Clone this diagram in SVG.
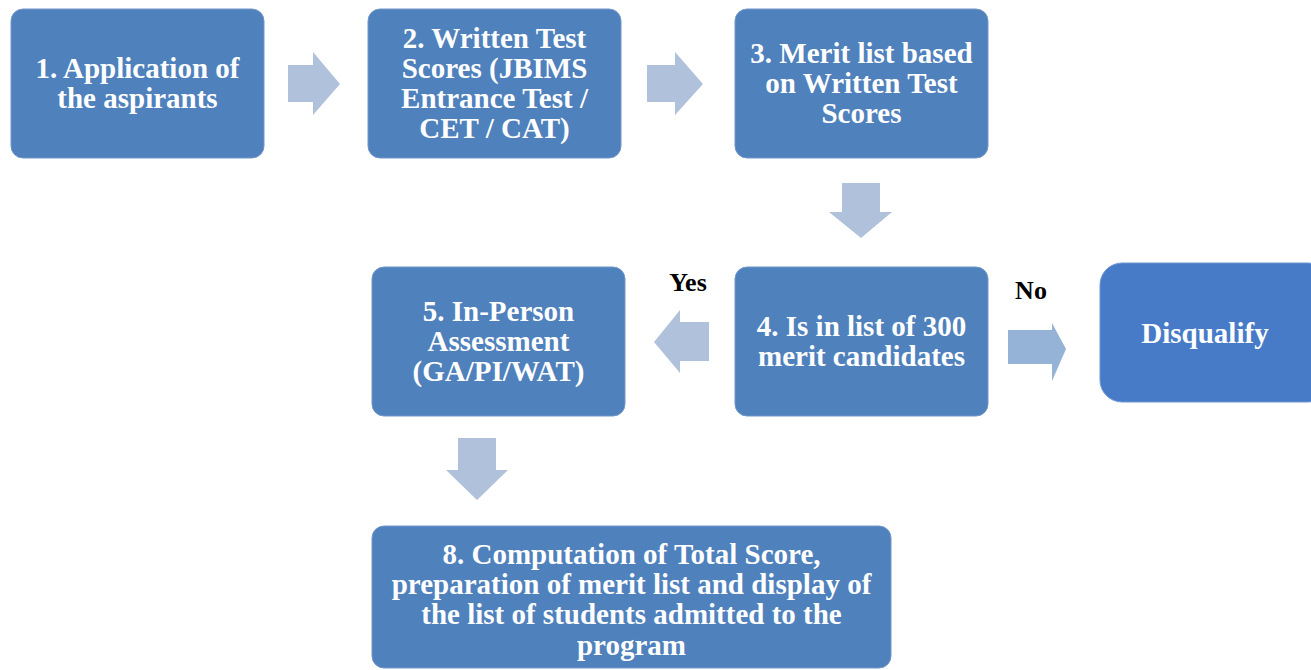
<svg xmlns="http://www.w3.org/2000/svg" width="1311" height="670" viewBox="0 0 1311 670">
<style>
.box{fill:#4F81BD;stroke:#7397C9;stroke-width:1}
.dq{fill:#477BC7;stroke:#6E96D2;stroke-width:1}
.arr{fill:#B0C1DC}
.arrno{fill:#95B3D7}
.t{font-family:"Liberation Serif","Times New Roman",serif;font-weight:bold;font-size:29px;fill:#FFFFFF;text-anchor:middle}
.lbl{font-family:"Liberation Serif","Times New Roman",serif;font-weight:bold;font-size:26px;fill:#000000;text-anchor:middle}
</style>
<rect width="1311" height="670" fill="#FFFFFF"/>
<g id="connectors">
<polygon class="arr" points="288,65 313,65 313,52 340,84 313,115 313,102 288,102"/>
<polygon class="arr" points="647,65 675,65 675,52 703,84 675,115 675,102 647,102"/>
<polygon class="arr" points="842,183 880,183 880,212 892,212 861,238 829,212 842,212"/>
<polygon class="arr" points="709,322 680,322 680,310 654,342 680,373 680,361 709,361"/>
<polygon class="arrno" points="1008,330 1052,330 1052,323 1066,349 1052,381 1052,364 1008,364"/>
<polygon class="arr" points="458,438 496,438 496,470 508,470 477,500 446,470 458,470"/>
<text class="lbl" x="688" y="291">Yes</text>
<text class="lbl" x="1031" y="299">No</text>
</g>
<g id="n1">
<rect class="box" x="11" y="9" width="253" height="149" rx="12"/>
<text class="t" x="137.5" y="78">1. Application of</text>
<text class="t" x="137.5" y="108">the aspirants</text>
</g>
<g id="n2">
<rect class="box" x="368" y="9" width="253" height="149" rx="12"/>
<text class="t" x="494.5" y="48">2. Written Test</text>
<text class="t" x="494.5" y="78">Scores (JBIMS</text>
<text class="t" x="494.5" y="108">Entrance Test /</text>
<text class="t" x="494.5" y="138">CET / CAT)</text>
</g>
<g id="n3">
<rect class="box" x="735" y="9" width="253" height="149" rx="12"/>
<text class="t" x="861.5" y="63">3. Merit list based</text>
<text class="t" x="861.5" y="93">on Written Test</text>
<text class="t" x="861.5" y="123">Scores</text>
</g>
<g id="n4">
<rect class="box" x="735" y="267" width="253" height="149" rx="12"/>
<text class="t" x="861.5" y="336">4. Is in list of 300</text>
<text class="t" x="861.5" y="366">merit candidates</text>
</g>
<g id="n5">
<rect class="box" x="372" y="267" width="253" height="149" rx="12"/>
<text class="t" x="498.5" y="321">5. In-Person</text>
<text class="t" x="498.5" y="351">Assessment</text>
<text class="t" x="498.5" y="381">(GA/PI/WAT)</text>
</g>
<g id="dq">
<rect class="dq" x="1100" y="263" width="230" height="139" rx="22"/>
<text class="t" x="1205" y="343">Disqualify</text>
</g>
<g id="n8">
<rect class="box" x="372" y="526" width="519" height="142" rx="12"/>
<text class="t" x="631.5" y="564">8. Computation of Total Score,</text>
<text class="t" x="631.5" y="594">preparation of merit list and display of</text>
<text class="t" x="631.5" y="624">the list of students admitted to the</text>
<text class="t" x="631.5" y="655">program</text>
</g>
</svg>
